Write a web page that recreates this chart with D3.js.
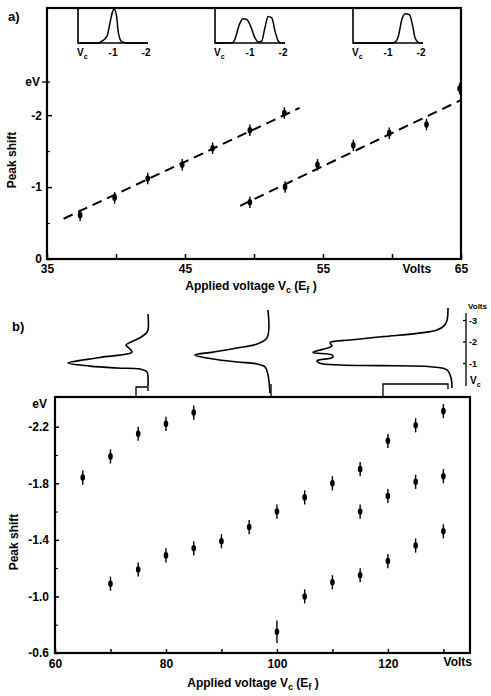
<!DOCTYPE html>
<html><head><meta charset="utf-8">
<script src="https://cdn.jsdelivr.net/npm/d3@7"></script>
<style>
body{margin:0;background:#fff}
text{font-family:"Liberation Sans",Arial,Helvetica,sans-serif;font-weight:bold;fill:#000}
</style>
</head><body>
<svg id="chart" width="491" height="696"></svg>
<script>
// ---------------- DATA ----------------
// Panel a) : two branches of peak shift vs applied voltage
const aVoltsLow   = [37.4, 39.9, 42.3, 44.8, 47.0, 49.7, 52.2];
const aShiftLow   = [0.61, 0.85, 1.12, 1.31, 1.54, 1.79, 2.03];
const aVoltsHigh  = [49.7, 52.25, 54.6, 57.2, 59.8, 62.5, 64.9];
const aShiftHigh  = [0.79, 1.00, 1.31, 1.58, 1.75, 1.87, 2.37];
const aError      = 0.08;
const aFitLowV    = [36.2, 53.3];
const aFitLowS    = [0.56, 2.10];
const aFitHighV   = [49.0, 65.0];
const aFitHighS   = [0.74, 2.21];
const aXTicks     = [35, 40, 45, 50, 55, 60, 65];
const aXLabels    = ["35", "", "45", "", "55", "", "65"];
const aYTicks     = [0, 1, 2];
const aYLabels    = ["0", "-1", "-2"];
const aYMinor     = [0.5, 1.5];
const aInsetTicks = [0, 1, 2];
const aInsetLabels= ["V", "-1", "-2"];
// inset spectra of panel a: [volts below Vc, relative intensity]
const aInset1 = [[-0.06,0],[0.55,0],[0.61,0.02],[0.82,0.2],[0.91,0.6],[0.99,0.93],[1.03,1.0],[1.11,0.78],[1.15,0.39],[1.23,0.08],[1.30,0.02],[1.45,0],[2.06,0]];
const aInset2 = [[-0.06,0],[0.40,0],[0.49,0.02],[0.70,0.59],[0.78,0.71],[0.90,0.69],[1.00,0.54],[1.15,0.15],[1.25,0.03],[1.35,0.05],[1.45,0.44],[1.55,0.78],[1.66,0.74],[1.76,0.34],[1.86,0.05],[1.95,0],[2.06,0]];
const aInset3 = [[-0.06,0],[1.10,0],[1.21,0.02],[1.31,0.19],[1.42,0.69],[1.52,0.86],[1.65,0.83],[1.75,0.49],[1.82,0.15],[1.92,0.02],[2.0,0],[2.06,0]];

// Panel b) : three branches
const bVoltsUpper = [65, 70, 75, 80, 85, 100, 105, 110, 115, 120, 125, 130];
const bShiftUpper = [1.84, 1.99, 2.15, 2.22, 2.30, 1.60, 1.70, 1.80, 1.90, 2.10, 2.21, 2.31];
const bVoltsLower = [70, 75, 80, 85, 90, 95];
const bShiftLower = [1.09, 1.19, 1.29, 1.34, 1.39, 1.49];
const bVoltsMid   = [115, 120, 125, 130];
const bShiftMid   = [1.60, 1.71, 1.81, 1.85];
const bVoltsLow   = [100, 105, 110, 115, 120, 125, 130];
const bShiftLow   = [0.75, 1.00, 1.10, 1.15, 1.25, 1.36, 1.46];
const bErrLow     = [0.08, 0.05, 0.05, 0.05, 0.05, 0.05, 0.05];
const bError      = 0.05;
const bXTicks     = [60, 70, 80, 90, 100, 110, 120, 130];
const bXLabels    = ["60", "", "80", "", "100", "", "120", ""];
const bYTicks     = [0.6, 1.0, 1.4, 1.8, 2.2];
const bYLabels    = ["-0.6", "-1.0", "-1.4", "-1.8", "-2.2"];
const bYMinor     = [0.8, 1.2, 1.6, 2.0];
const bInsetTicks = [1, 2, 3];
const bInsetLabels= ["-1", "-2", "-3"];
// inset spectra of panel b: [volts above Vc, intensity (arb.)]
const bInset1 = [[3.3,0],[2.56,0],[2.4,2],[2.2,8],[2.0,17],[1.86,22],[1.72,19],[1.53,16],[1.28,48],[1.02,80],[0.88,58],[0.79,31],[0.74,8],[0.6,1],[0.37,0],[-0.05,0]];
const bInset2 = [[3.49,0],[2.19,1],[1.91,11],[1.72,31],[1.53,55],[1.40,73],[1.21,55],[1.07,31],[0.98,11],[0.84,3],[0.47,0],[-0.37,-2]];
const bInset3 = [[3.58,4],[3.0,5],[2.75,8],[2.56,15],[2.40,35],[2.25,69],[2.09,102],[1.97,122],[1.81,120],[1.52,139],[1.40,120],[1.29,119],[1.13,135],[1.01,132],[0.93,112],[0.90,69],[0.84,19],[0.70,5],[0.33,1],[-0.14,0]];

// ---------------- DRAWING ----------------
const svg = d3.select("#chart");
const FONT = 12;

function subText(sel, parts, size) {
  // parts: array of [text, isSub]; subscripts shifted in px so baselines line up
  const shift = Math.round(size * 0.28);
  let lowered = false;
  parts.forEach(([t, sub]) => {
    const ts = sel.append("tspan").text(t);
    if (sub) { ts.attr("font-size", Math.round(size * 0.72)).attr("dy", lowered ? 0 : shift); lowered = true; }
    else { ts.attr("dy", lowered ? -shift : 0); lowered = false; }
  });
}

function errorPoints(g, x, y, vs, ss, errs) {
  vs.forEach((v, i) => {
    const e = Array.isArray(errs) ? errs[i] : errs;
    g.append("line").attr("x1", x(v)).attr("x2", x(v))
      .attr("y1", y(ss[i] - e)).attr("y2", y(ss[i] + e))
      .attr("stroke", "#000").attr("stroke-width", 1.4);
    g.append("ellipse").attr("cx", x(v)).attr("cy", y(ss[i]))
      .attr("rx", 2.3).attr("ry", 3.3).attr("fill", "#000");
  });
}

// ===== Panel a =====
const ax = d3.scaleLinear().domain([35, 65]).range([47, 461]);
const ay = d3.scaleLinear().domain([0, 3.49]).range([259, 8]);
const ga = svg.append("g");

ga.append("g").attr("transform", "translate(0,259)")
  .call(d3.axisBottom(ax).tickValues(aXTicks).tickSizeInner(-5).tickSizeOuter(0).tickPadding(5)
    .tickFormat((d, i) => aXLabels[i]))
  .call(g => { g.select(".domain").remove(); g.selectAll("line").attr("stroke-width", 1.5);
    g.selectAll("text").attr("font-size", FONT).attr("font-family", null); });
ga.append("g").attr("transform", "translate(47,0)")
  .call(d3.axisLeft(ay).tickValues(aYTicks).tickSizeInner(-5).tickSizeOuter(0).tickPadding(5)
    .tickFormat((d, i) => aYLabels[i]))
  .call(g => { g.select(".domain").remove(); g.selectAll("line").attr("stroke-width", 1.5);
    g.selectAll("text").attr("font-size", FONT).attr("font-family", null); });
ga.append("g").attr("transform", "translate(47,0)")
  .call(d3.axisLeft(ay).tickValues(aYMinor).tickSizeInner(-3).tickSizeOuter(0).tickFormat(""))
  .call(g => g.select(".domain").remove());
ga.append("line").attr("x1", 42).attr("x2", 50).attr("y1", ay(2.46)).attr("y2", ay(2.46)).attr("stroke", "#000").attr("stroke-width", 1.3);
ga.append("text").attr("x", 40).attr("y", ay(2.46)).attr("dy", "0.35em").attr("text-anchor", "end").attr("font-size", FONT).text("eV");
ga.append("text").attr("x", ax(61.8)).attr("y", 273).attr("text-anchor", "middle").attr("font-size", FONT).text("Volts");

ga.append("rect").attr("x", 47).attr("y", 8).attr("width", 414).attr("height", 251)
  .attr("fill", "none").attr("stroke", "#000").attr("stroke-width", 2.2);

const fitLine = d3.line().x(d => ax(d[0])).y(d => ay(d[1]));
[[aFitLowV, aFitLowS], [aFitHighV, aFitHighS]].forEach(([vv, ss]) => {
  ga.append("path").attr("d", fitLine(vv.map((v, i) => [v, ss[i]])))
    .attr("fill", "none").attr("stroke", "#000").attr("stroke-width", 2)
    .attr("stroke-dasharray", "10,6");
});
errorPoints(ga, ax, ay, aVoltsLow, aShiftLow, aError);
errorPoints(ga, ax, ay, aVoltsHigh, aShiftHigh, aError);

ga.append("text").attr("x", 8).attr("y", 21).attr("font-size", 13).text("a)");
ga.append("text").attr("transform", "translate(16,160) rotate(-90)").attr("text-anchor", "middle").attr("font-size", FONT).text("Peak shift");
const ta = ga.append("text").attr("x", 251).attr("y", 290).attr("text-anchor", "middle").attr("font-size", FONT);
subText(ta, [["Applied voltage V", false], ["c", true], ["  (E", false], ["f", true], [" )", false]], FONT);

// insets of panel a
const insetALeft = [78, 215, 353];
[aInset1, aInset2, aInset3].forEach((curve, k) => {
  const x0 = insetALeft[k];
  const ux = d3.scaleLinear().domain([-0.06, 2.06]).range([x0, x0 + 70]);
  const uy = d3.scaleLinear().domain([0, 1]).range([43, 9]);
  const g = ga.append("g");
  g.append("path").attr("d", `M${x0},8V43H${x0 + 70}`).attr("fill", "none").attr("stroke", "#000").attr("stroke-width", 1.6);
  g.append("path").attr("d", d3.line().x(d => ux(d[0])).y(d => uy(d[1])).curve(d3.curveMonotoneX)(curve))
    .attr("fill", "none").attr("stroke", "#000").attr("stroke-width", 1.5);
  aInsetTicks.forEach((t, i) => {
    const tx = g.append("text").attr("x", i === 0 ? x0 - 1 : ux(t)).attr("y", 56)
      .attr("text-anchor", i === 0 ? "start" : "middle").attr("font-size", 10);
    if (i === 0) subText(tx, [["V", false], ["c", true]], 10); else tx.text(aInsetLabels[i]);
  });
});

// ===== Panel b =====
const bx = d3.scaleLinear().domain([60, 134.8]).range([55, 470]);
const by = d3.scaleLinear().domain([0.6, 2.41]).range([653, 397]);
const gb = svg.append("g");

gb.append("g").attr("transform", "translate(0,653)")
  .call(d3.axisBottom(bx).tickValues(bXTicks).tickSizeInner(-4).tickSizeOuter(0).tickPadding(6)
    .tickFormat((d, i) => bXLabels[i]))
  .call(g => { g.select(".domain").remove(); g.selectAll("line").attr("stroke-width", 1.5);
    g.selectAll("text").attr("font-size", FONT).attr("font-family", null); });
gb.append("g").attr("transform", "translate(55,0)")
  .call(d3.axisLeft(by).tickValues(bYTicks).tickSizeInner(-4).tickSizeOuter(0).tickPadding(6)
    .tickFormat((d, i) => bYLabels[i]))
  .call(g => { g.select(".domain").remove(); g.selectAll("line").attr("stroke-width", 1.5);
    g.selectAll("text").attr("font-size", FONT).attr("font-family", null); });
gb.append("g").attr("transform", "translate(55,0)")
  .call(d3.axisLeft(by).tickValues(bYMinor).tickSizeInner(-3).tickSizeOuter(0).tickFormat(""))
  .call(g => g.select(".domain").remove());
gb.append("text").attr("x", 47).attr("y", 404).attr("dy", "0.35em").attr("text-anchor", "end").attr("font-size", FONT).text("eV");
gb.append("text").attr("x", bx(132.6)).attr("y", 666).attr("text-anchor", "middle").attr("font-size", FONT).text("Volts");

gb.append("rect").attr("x", 55).attr("y", 397).attr("width", 415).attr("height", 256)
  .attr("fill", "none").attr("stroke", "#000").attr("stroke-width", 2.2);

errorPoints(gb, bx, by, bVoltsUpper, bShiftUpper, bError);
errorPoints(gb, bx, by, bVoltsLower, bShiftLower, bError);
errorPoints(gb, bx, by, bVoltsMid, bShiftMid, bError);
errorPoints(gb, bx, by, bVoltsLow, bShiftLow, bErrLow);

gb.append("text").attr("x", 12).attr("y", 331).attr("font-size", 13).text("b)");
gb.append("text").attr("transform", "translate(18,542) rotate(-90)").attr("text-anchor", "middle").attr("font-size", FONT).text("Peak shift");
const tb = gb.append("text").attr("x", 253).attr("y", 687).attr("text-anchor", "middle").attr("font-size", FONT);
subText(tb, [["Applied voltage V", false], ["c", true], ["  (E", false], ["f", true], [" )", false]], FONT);

// insets of panel b (spectra drawn vertically, voltage upward)
const vy = d3.scaleLinear().domain([0, 3]).range([385, 320.5]);
const insetBBase = [148, 268, 452];
[bInset1, bInset2, bInset3].forEach((curve, k) => {
  const x0 = insetBBase[k];
  gb.append("path")
    .attr("d", d3.line().x(d => x0 - d[1]).y(d => vy(d[0])).curve(d3.curveCatmullRom.alpha(0.5))(curve))
    .attr("fill", "none").attr("stroke", "#000").attr("stroke-width", 1.6);
});
// small connector brackets
gb.append("path").attr("d", "M136,397V387H148V391").attr("fill", "none").attr("stroke", "#000").attr("stroke-width", 1.3);
gb.append("path").attr("d", "M271,397V384").attr("fill", "none").attr("stroke", "#000").attr("stroke-width", 1.3);
gb.append("path").attr("d", "M383,397V384H448V389").attr("fill", "none").attr("stroke", "#000").attr("stroke-width", 1.3);
// voltage scale of insets
gb.append("line").attr("x1", 466).attr("x2", 466).attr("y1", 313).attr("y2", 386).attr("stroke", "#000").attr("stroke-width", 1.3);
bInsetTicks.forEach((t, i) => {
  gb.append("line").attr("x1", 463).attr("x2", 466).attr("y1", vy(t)).attr("y2", vy(t)).attr("stroke", "#000").attr("stroke-width", 1.3);
  gb.append("text").attr("x", 469).attr("y", vy(t)).attr("dy", "0.35em").attr("font-size", 9).text(bInsetLabels[i]);
});
const vc = gb.append("text").attr("x", 470).attr("y", 384).attr("font-size", 10);
subText(vc, [["V", false], ["c", true]], 10);
gb.append("text").attr("x", 468).attr("y", 309).attr("font-size", 8).text("Volts");
</script>
</body></html>
